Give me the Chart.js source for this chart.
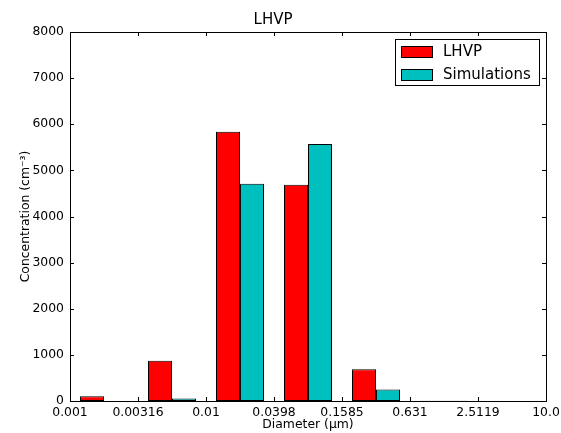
<!DOCTYPE html>
<html>
<head>
<meta charset="utf-8">
<script src="https://cdn.jsdelivr.net/npm/chart.js@4"></script>
<style>
  html, body { margin: 0; padding: 0; background: #fff; }
  #wrap { width: 561px; height: 433px; }
</style>
</head>
<body>
<div id="wrap"><canvas id="chart" width="561" height="433"></canvas></div>
<script>
// Bin edges shown as tick labels, bars sit between them
const tickLabels = ['0.001', '0.00316', '0.01', '0.0398', '0.1585', '0.631', '2.5119', '10.0'];
const binCenters = [0.5, 1.5, 2.5, 3.5, 4.5, 5.5, 6.5];
const lhvpValues = [105, 870, 5840, 4690, 690, 3, 2];
const simValues = [0, 55, 4710, 5570, 250, 3, 2];

const FONT = 'DejaVu Sans';

// inward tick marks, full frame and a boxed legend like the matplotlib original
const framePlugin = {
  id: 'frame',
  afterDraw(chart) {
    const ctx = chart.ctx;
    const a = chart.chartArea;
    const x = chart.scales.x, y = chart.scales.y;
    ctx.save();
    ctx.strokeStyle = '#000';
    ctx.lineWidth = 1;
    ctx.beginPath();
    x.ticks.forEach(t => {
      const px = Math.round(x.getPixelForValue(t.value)) + 0.5;
      ctx.moveTo(px, a.bottom); ctx.lineTo(px, a.bottom - 4);
      ctx.moveTo(px, a.top); ctx.lineTo(px, a.top + 4);
    });
    y.ticks.forEach(t => {
      const py = Math.round(y.getPixelForValue(t.value)) + 0.5;
      ctx.moveTo(a.left, py); ctx.lineTo(a.left + 4, py);
      ctx.moveTo(a.right, py); ctx.lineTo(a.right - 4, py);
    });
    ctx.stroke();
    ctx.strokeRect(Math.round(a.left) + 0.5, Math.round(a.top) + 0.5,
      Math.round(a.right - a.left), Math.round(a.bottom - a.top));

    // legend box
    const lx = 395.5, ly = 39.5, lw = 144, lh = 46;
    ctx.fillStyle = '#fff';
    ctx.fillRect(lx, ly, lw, lh);
    ctx.strokeRect(lx, ly, lw, lh);
    ctx.font = '15px "' + FONT + '"';
    ctx.textBaseline = 'middle';
    chart.data.datasets.forEach((ds, i) => {
      const cy = 51.5 + i * 23;
      ctx.fillStyle = ds.backgroundColor;
      ctx.fillRect(401, cy - 5, 31, 11);
      ctx.strokeRect(401.5, cy - 5, 31, 11);
      ctx.fillStyle = '#000';
      ctx.fillText(ds.label, 443, cy + 1);
    });
    ctx.restore();
  }
};

new Chart(document.getElementById('chart'), {
  type: 'bar',
  data: {
    datasets: [
      {
        label: 'LHVP',
        data: binCenters.map((c, i) => ({ x: c, y: lhvpValues[i] })),
        backgroundColor: '#ff0000',
        borderColor: '#000',
        borderWidth: 1,
        borderSkipped: false,
        inflateAmount: 0,
        barThickness: 24,
      },
      {
        label: 'Simulations',
        data: binCenters.map((c, i) => ({ x: c, y: simValues[i] })),
        backgroundColor: '#00bfbf',
        borderColor: '#000',
        borderWidth: 1,
        borderSkipped: false,
        inflateAmount: 0,
        barThickness: 24,
      },
    ],
  },
  options: {
    responsive: false,
    animation: false,
    layout: { padding: { left: 0, right: 15, top: 0, bottom: 0 } },
    scales: {
      x: {
        type: 'linear',
        min: 0,
        max: 7,
        offset: false,
        afterFit: s => { s.height = 32; s.paddingLeft = 0; s.paddingRight = 0; },
        grid: { display: false, drawTicks: false },
        border: { display: false },
        ticks: {
          stepSize: 1,
          padding: 4,
          maxRotation: 0,
          autoSkip: false,
          color: '#000',
          font: { family: FONT, size: 12.4 },
          callback: v => tickLabels[v] !== undefined ? tickLabels[v] : '',
        },
        title: {
          display: true,
          text: 'Diameter (μm)',
          color: '#000',
          font: { family: FONT, size: 12.4 },
          padding: { top: 0, bottom: 1 },
        },
      },
      y: {
        min: 0,
        max: 8000,
        afterFit: s => { s.width = 70; },
        grid: { display: false, drawTicks: false },
        border: { display: false },
        ticks: {
          stepSize: 1000,
          padding: 6,
          color: '#000',
          font: { family: FONT, size: 12.4 },
          callback: v => String(v),
        },
        title: {
          display: true,
          text: 'Concentration (cm⁻³)',
          color: '#000',
          font: { family: FONT, size: 12.4 },
          padding: { top: 18, bottom: 0 },
        },
      },
    },
    plugins: {
      legend: { display: false },
      tooltip: { enabled: false },
      title: {
        display: true,
        text: 'LHVP',
        color: '#000',
        font: { family: FONT, size: 15, weight: 'normal' },
        padding: { top: 11, bottom: 3 },
      },
    },
  },
  plugins: [framePlugin],
});
</script>
</body>
</html>
